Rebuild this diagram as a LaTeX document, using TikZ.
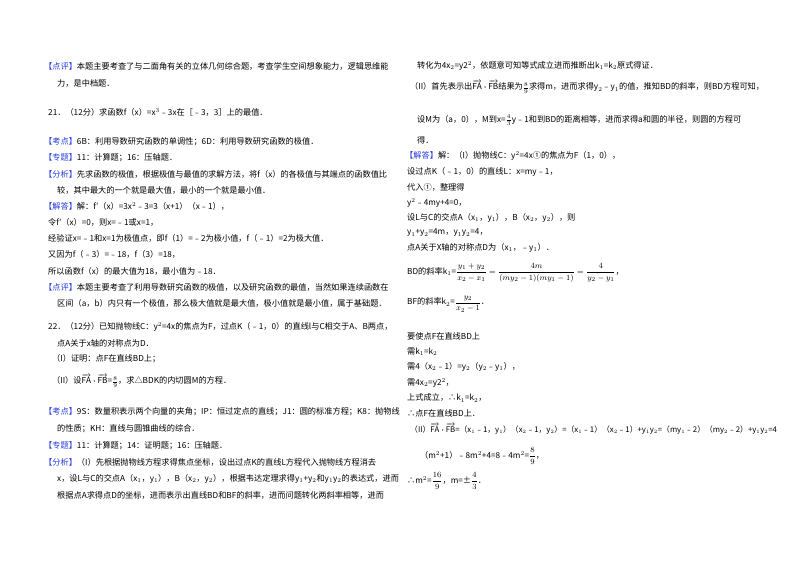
\documentclass[tikz,border=0pt]{standalone}
\usepackage{amsmath}
\usepackage{fontspec}
\setmainfont{Noto Sans CJK SC}
\definecolor{tag}{RGB}{40,60,220}
\newcommand{\tg}[1]{\textcolor{tag}{【#1】}}
\newcommand{\vfa}{$\overrightarrow{\mathrm{FA}}\boldsymbol{\cdot}\overrightarrow{\mathrm{FB}}$}
\begin{document}
\begin{tikzpicture}[x=1pt,y=-1pt,ln/.style={anchor=west,inner sep=0pt,font=\fontsize{8.2}{9}\selectfont}]
\useasboundingbox[fill=white] (0,0) rectangle (800,565);
% left column
\node[ln] (a1) at (44,66) {\tg{点评}本题主要考查了与二面角有关的立体几何综合题，考查学生空间想象能力，逻辑思维能};
\node[ln] (a2) at (57,83) {力，是中档题．};
\node[ln] (a3) at (48,112) {21．（12分）求函数f（x）=x$^3$﹣3x在［﹣3，3］上的最值．};
\node[ln] (a4) at (44,142) {\tg{考点}6B：利用导数研究函数的单调性；6D：利用导数研究函数的极值．};
\node[ln] (a5) at (44,158) {\tg{专题}11：计算题；16：压轴题．};
\node[ln] (a6) at (44,174) {\tg{分析}先求函数的极值，根据极值与最值的求解方法，将f（x）的各极值与其端点的函数值比};
\node[ln] (a7) at (57,190) {较，其中最大的一个就是最大值，最小的一个就是最小值．};
\node[ln] (a8) at (44,206) {\tg{解答}解：f′（x）=3x$^2$﹣3=3（x+1）（x﹣1），};
\node[ln] (a9) at (48,222) {令f′（x）=0，则x=﹣1或x=1，};
\node[ln] (a10) at (48,238) {经验证x=﹣1和x=1为极值点，即f（1）=﹣2为极小值，f（﹣1）=2为极大值．};
\node[ln] (a11) at (48,254) {又因为f（﹣3）=﹣18，f（3）=18，};
\node[ln] (a12) at (48,271) {所以函数f（x）的最大值为18，最小值为﹣18．};
\node[ln] (a13) at (44,287) {\tg{点评}本题主要考查了利用导数研究函数的极值，以及研究函数的最值，当然如果连续函数在};
\node[ln] (a14) at (57,303) {区间（a，b）内只有一个极值，那么极大值就是最大值，极小值就是最小值，属于基础题．};
\node[ln] (a15) at (48,327) {22．（12分）已知抛物线C：y$^2$=4x的焦点为F，过点K（﹣1，0）的直线l与C相交于A、B两点，};
\node[ln] (a16) at (57,343) {点A关于x轴的对称点为D．};
\node[ln] (a17) at (52,359) {（I）证明：点F在直线BD上；};
\node[ln] (a18) at (52,381) {（II）设\vfa=$\frac{8}{9}$，求△BDK的内切圆M的方程．};
\node[ln] (a19) at (44,412) {\tg{考点}9S：数量积表示两个向量的夹角；IP：恒过定点的直线；J1：圆的标准方程；K8：抛物线};
\node[ln] (a20) at (57,429) {的性质；KH：直线与圆锥曲线的综合．};
\node[ln] (a21) at (44,446) {\tg{专题}11：计算题；14：证明题；16：压轴题．};
\node[ln] (a22) at (44,462) {\tg{分析}（I）先根据抛物线方程求得焦点坐标，设出过点K的直线L方程代入抛物线方程消去};
\node[ln] (a23) at (57,479) {x，设L与C的交点A（x$_1$，y$_1$），B（x$_2$，y$_2$），根据韦达定理求得y$_1$+y$_2$和y$_1$y$_2$的表达式，进而};
\node[ln] (a24) at (57,495) {根据点A求得点D的坐标，进而表示出直线BD和BF的斜率，进而问题转化两斜率相等，进而};
% right column
\node[ln] (b1) at (417,66) {转化为4x$_2$=y2$^2$，依题意可知等式成立进而推断出k$_1$=k$_2$原式得证．};
\node[ln] (b2) at (410,87) {（II）首先表示出\vfa 结果为$\frac{8}{9}$求得m，进而求得y$_2$﹣y$_1$的值，推知BD的斜率，则BD方程可知，};
\node[ln] (b3) at (417,120) {设M为（a，0），M到x=$\frac{4}{3}$y﹣1和到BD的距离相等，进而求得a和圆的半径，则圆的方程可};
\node[ln] (b4) at (417,140) {得．};
\node[ln] (b5) at (405,156) {\tg{解答}解：（I）抛物线C：y$^2$=4x①的焦点为F（1，0），};
\node[ln] (b6) at (407,172) {设过点K（﹣1，0）的直线L：x=my﹣1，};
\node[ln] (b7) at (407,187) {代入①，整理得};
\node[ln] (b8) at (407,203) {y$^2$﹣4my+4=0，};
\node[ln] (b9) at (407,218) {设L与C的交点A（x$_1$，y$_1$），B（x$_2$，y$_2$），则};
\node[ln] (b10) at (407,233) {y$_1$+y$_2$=4m，y$_1$y$_2$=4，};
\node[ln] (b11) at (407,248) {点A关于X轴的对称点D为（x$_1$，﹣y$_1$）．};
\node[ln] (b12) at (407,273) {BD的斜率k$_1$=$\dfrac{y_1+y_2}{x_2-x_1}=\dfrac{4m}{(my_2-1)(my_1-1)}=\dfrac{4}{y_2-y_1}$，};
\node[ln] (b13) at (407,304) {BF的斜率k$_2$=$\dfrac{y_2}{x_2-1}$．};
\node[ln] (b14) at (407,336) {要使点F在直线BD上};
\node[ln] (b15) at (407,352) {需k$_1$=k$_2$};
\node[ln] (b16) at (407,367) {需4（x$_2$﹣1）=y$_2$（y$_2$﹣y$_1$），};
\node[ln] (b17) at (407,383) {需4x$_2$=y2$^2$，};
\node[ln] (b18) at (407,398) {上式成立，∴k$_1$=k$_2$，};
\node[ln] (b19) at (407,413) {∴点F在直线BD上．};
\node[ln,font=\fontsize{7.8}{9}\selectfont] (b20) at (410,429) {（II）\vfa=（x$_1$﹣1，y$_1$）（x$_2$﹣1，y$_2$）=（x$_1$﹣1）（x$_2$﹣1）+y$_1$y$_2$=（my$_1$﹣2）（my$_2$﹣2）+y$_1$y$_2$=4};
\node[ln] (b21) at (420,456) {（m$^2$+1）﹣8m$^2$+4=8﹣4m$^2$=$\dfrac{8}{9}$，};
\node[ln] (b22) at (407,481) {∴m$^2$=$\dfrac{16}{9}$，m=±$\dfrac{4}{3}$．};
\end{tikzpicture}
\end{document}
